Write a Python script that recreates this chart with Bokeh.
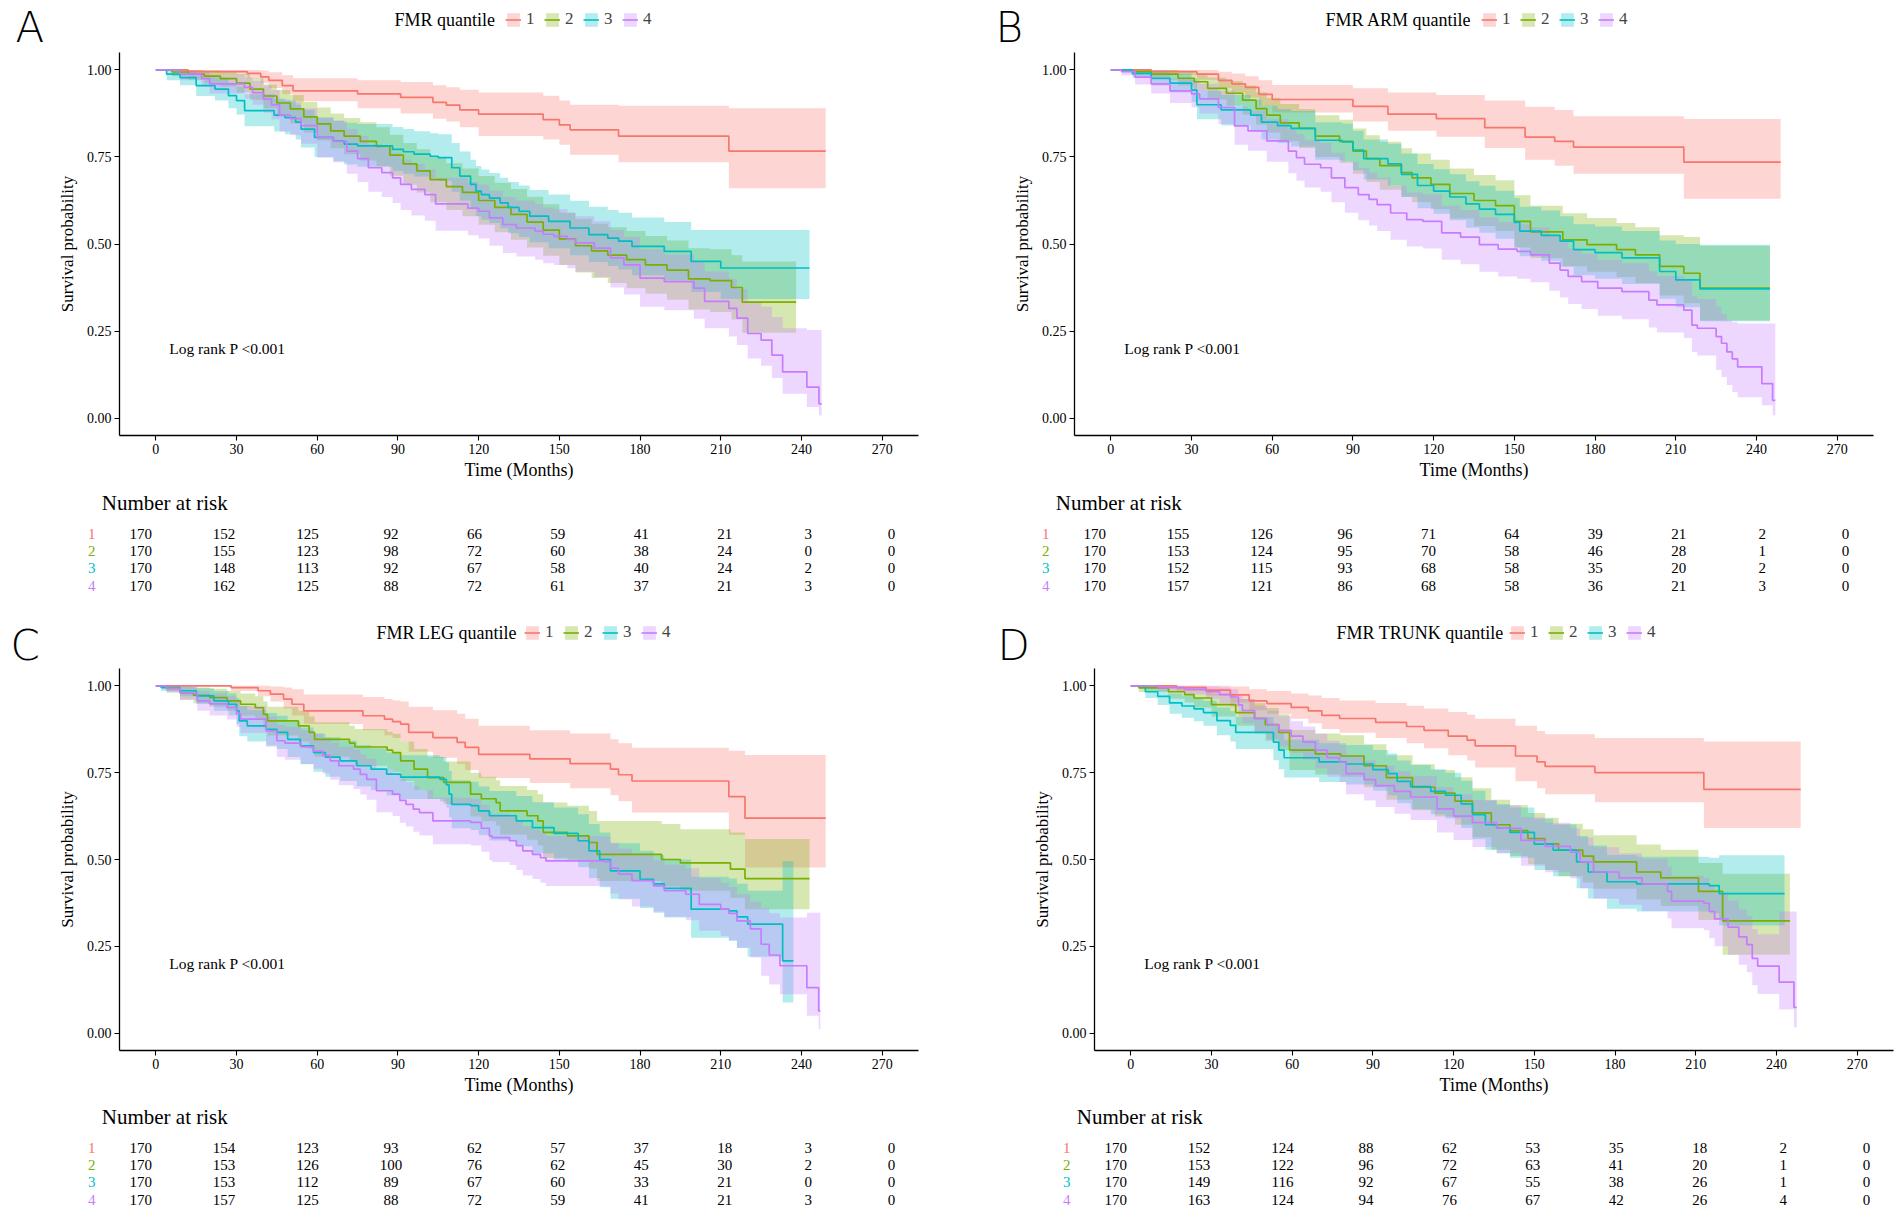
import numpy as np
from bokeh.plotting import figure
from bokeh.models import Range1d, FixedTicker, Legend, LegendItem, NumeralTickFormatter
from bokeh.layouts import row, column
from bokeh.embed import file_html
from bokeh.resources import INLINE
from bokeh.core.properties import value

# ---------------- data ----------------
COLORS = ["#F8766D", "#7CAE00", "#00BFC4", "#C77CFF"]
GROUPS = ["1", "2", "3", "4"]
X_TICKS = [0, 30, 60, 90, 120, 150, 180, 210, 240, 270]
Y_TICKS = [0.0, 0.25, 0.5, 0.75, 1.0]
LETTERS = ["A", "B", "C", "D"]
LEGEND_TITLES = ["FMR quantile", "FMR ARM quantile", "FMR LEG quantile", "FMR TRUNK quantile"]
PVAL_TEXT = "Log rank P <0.001"
X_TITLE = "Time (Months)"
Y_TITLE = "Survival probability"
RISK_TITLE = "Number at risk"
RISK_TIMES = [0, 30, 60, 90, 120, 150, 180, 210, 240, 270]

# Panel A
A1_T = [0, 12, 34, 39, 42, 47, 51, 75, 91, 103, 108, 113, 120, 144, 150, 154, 172, 213, 249]
A1_S = [1.0, 0.995, 0.99, 0.98, 0.97, 0.955, 0.94, 0.931, 0.921, 0.907, 0.899, 0.885, 0.873, 0.857, 0.842, 0.828, 0.81, 0.767, 0.767]
A1_LO = [1.0, 0.985, 0.975, 0.962, 0.948, 0.93, 0.91, 0.89, 0.875, 0.86, 0.852, 0.835, 0.81, 0.8, 0.785, 0.756, 0.735, 0.66, 0.66]
A1_HI = [1.0, 1.0, 1.0, 0.998, 0.993, 0.985, 0.976, 0.97, 0.965, 0.956, 0.95, 0.943, 0.935, 0.926, 0.912, 0.9, 0.897, 0.89, 0.89]

A2_T = [0, 6, 12, 18, 24, 30, 35, 40, 45, 50, 55, 60, 65, 70, 76, 82, 87, 92, 97, 102, 108, 114, 120, 126, 132, 138, 144, 150, 156, 162, 168, 175, 182, 190, 198, 206, 214, 218, 238]
A2_S = [1.0, 0.994, 0.988, 0.982, 0.975, 0.962, 0.945, 0.925, 0.905, 0.888, 0.865, 0.845, 0.825, 0.81, 0.795, 0.78, 0.755, 0.73, 0.71, 0.685, 0.665, 0.648, 0.625, 0.605, 0.585, 0.563, 0.54, 0.515, 0.495, 0.48, 0.468, 0.455, 0.44, 0.425, 0.4, 0.395, 0.375, 0.333, 0.333]
A2_LO = [1.0, 0.982, 0.972, 0.962, 0.952, 0.935, 0.914, 0.89, 0.866, 0.846, 0.82, 0.797, 0.775, 0.758, 0.74, 0.723, 0.696, 0.67, 0.648, 0.62, 0.598, 0.58, 0.555, 0.534, 0.512, 0.49, 0.466, 0.44, 0.418, 0.402, 0.388, 0.373, 0.357, 0.34, 0.312, 0.305, 0.283, 0.245, 0.245]
A2_HI = [1.0, 1.0, 1.0, 0.998, 0.995, 0.988, 0.976, 0.958, 0.942, 0.928, 0.908, 0.892, 0.875, 0.862, 0.85, 0.835, 0.814, 0.79, 0.772, 0.75, 0.732, 0.717, 0.695, 0.676, 0.658, 0.636, 0.614, 0.59, 0.572, 0.558, 0.548, 0.537, 0.523, 0.51, 0.488, 0.485, 0.468, 0.45, 0.45]

A3_T = [0, 4, 9, 15, 22, 27, 30, 33, 44, 48, 52, 54, 59, 66, 70, 75, 88, 92, 96, 102, 105, 110, 113, 117, 119, 121, 124, 128, 131, 135, 139, 146, 154, 161, 168, 172, 177, 189, 199, 210, 243]
A3_S = [1.0, 0.988, 0.978, 0.955, 0.945, 0.926, 0.912, 0.883, 0.87, 0.863, 0.85, 0.83, 0.806, 0.796, 0.787, 0.782, 0.772, 0.765, 0.758, 0.752, 0.748, 0.719, 0.695, 0.671, 0.652, 0.642, 0.632, 0.618, 0.605, 0.594, 0.58, 0.565, 0.546, 0.527, 0.517, 0.508, 0.493, 0.479, 0.45, 0.431, 0.431]
A3_LO = [1.0, 0.97, 0.956, 0.925, 0.912, 0.89, 0.872, 0.838, 0.823, 0.815, 0.8, 0.777, 0.75, 0.738, 0.728, 0.722, 0.71, 0.702, 0.694, 0.688, 0.682, 0.65, 0.625, 0.6, 0.58, 0.57, 0.56, 0.545, 0.531, 0.52, 0.505, 0.488, 0.468, 0.448, 0.437, 0.427, 0.41, 0.395, 0.362, 0.342, 0.342]
A3_HI = [1.0, 1.0, 0.998, 0.985, 0.978, 0.963, 0.952, 0.93, 0.918, 0.912, 0.9, 0.885, 0.864, 0.855, 0.848, 0.845, 0.836, 0.83, 0.824, 0.818, 0.815, 0.79, 0.766, 0.742, 0.724, 0.714, 0.704, 0.69, 0.678, 0.668, 0.655, 0.642, 0.624, 0.607, 0.598, 0.59, 0.576, 0.563, 0.54, 0.54, 0.54]

A4_T = [0, 9, 17, 20, 33, 36, 40, 43, 46, 50, 54, 60, 66, 71, 75, 79, 84, 88, 91, 95, 100, 104, 116, 120, 124, 129, 134, 141, 144, 148, 153, 156, 163, 169, 174, 180, 189, 200, 204, 213, 216, 220, 225, 229, 233, 242, 246.5, 247.5]
A4_S = [1.0, 0.988, 0.975, 0.96, 0.95, 0.935, 0.916, 0.9, 0.87, 0.86, 0.84, 0.806, 0.795, 0.767, 0.745, 0.719, 0.705, 0.69, 0.671, 0.657, 0.642, 0.615, 0.603, 0.594, 0.575, 0.556, 0.546, 0.537, 0.528, 0.522, 0.513, 0.503, 0.488, 0.46, 0.44, 0.402, 0.392, 0.373, 0.335, 0.315, 0.287, 0.243, 0.224, 0.181, 0.133, 0.089, 0.041, 0.041]
A4_LO = [1.0, 0.97, 0.952, 0.932, 0.918, 0.9, 0.877, 0.858, 0.823, 0.812, 0.788, 0.748, 0.735, 0.702, 0.678, 0.65, 0.635, 0.618, 0.598, 0.582, 0.567, 0.538, 0.525, 0.516, 0.495, 0.474, 0.464, 0.455, 0.445, 0.44, 0.43, 0.42, 0.405, 0.375, 0.355, 0.32, 0.31, 0.285, 0.258, 0.234, 0.21, 0.171, 0.15, 0.115, 0.07, 0.032, 0.008, 0.008]
A4_HI = [1.0, 1.0, 0.995, 0.985, 0.978, 0.968, 0.955, 0.942, 0.915, 0.907, 0.89, 0.862, 0.853, 0.83, 0.81, 0.787, 0.775, 0.762, 0.743, 0.73, 0.715, 0.69, 0.678, 0.67, 0.653, 0.635, 0.625, 0.615, 0.605, 0.6, 0.59, 0.58, 0.565, 0.54, 0.52, 0.485, 0.47, 0.45, 0.421, 0.4, 0.37, 0.335, 0.32, 0.29, 0.258, 0.253, 0.253, 0.253]

# Panel B
B1_T = [0, 15, 32, 40, 45, 50, 55, 60, 90, 103, 121, 139, 154, 165, 172, 213, 249]
B1_S = [1.0, 0.995, 0.988, 0.97, 0.96, 0.95, 0.93, 0.915, 0.895, 0.873, 0.86, 0.834, 0.807, 0.795, 0.778, 0.735, 0.735]
B1_LO = [1.0, 0.985, 0.972, 0.948, 0.935, 0.92, 0.896, 0.878, 0.852, 0.825, 0.808, 0.776, 0.742, 0.725, 0.702, 0.63, 0.63]
B1_HI = [1.0, 1.0, 1.0, 0.995, 0.99, 0.982, 0.97, 0.957, 0.947, 0.935, 0.928, 0.912, 0.894, 0.885, 0.867, 0.859, 0.859]

B2_T = [0, 8, 15, 25, 31, 36, 43, 49, 54, 58, 63, 70, 76, 85, 90, 95, 100, 108, 112, 119, 126, 135, 143, 150, 156, 168, 177, 188, 195, 204, 213, 219, 245]
B2_S = [1.0, 0.995, 0.988, 0.976, 0.966, 0.947, 0.933, 0.913, 0.889, 0.87, 0.848, 0.832, 0.81, 0.795, 0.767, 0.745, 0.725, 0.705, 0.69, 0.671, 0.645, 0.625, 0.61, 0.565, 0.535, 0.512, 0.498, 0.484, 0.469, 0.436, 0.416, 0.373, 0.373]
B2_LO = [1.0, 0.985, 0.972, 0.955, 0.94, 0.915, 0.897, 0.872, 0.843, 0.82, 0.795, 0.776, 0.75, 0.733, 0.702, 0.678, 0.656, 0.635, 0.62, 0.6, 0.573, 0.552, 0.537, 0.49, 0.46, 0.436, 0.42, 0.405, 0.388, 0.352, 0.33, 0.28, 0.28]
B2_HI = [1.0, 1.0, 1.0, 0.995, 0.99, 0.978, 0.968, 0.955, 0.936, 0.92, 0.902, 0.888, 0.87, 0.857, 0.832, 0.812, 0.794, 0.775, 0.76, 0.742, 0.717, 0.698, 0.683, 0.64, 0.61, 0.588, 0.575, 0.56, 0.548, 0.525, 0.52, 0.495, 0.495]

B3_T = [0, 8, 15, 22, 30, 32, 41, 52, 56, 62, 67, 76, 86, 90, 94, 103, 108, 114, 120, 126, 132, 137, 143, 150, 152, 160, 167, 172, 180, 190, 204, 210, 219, 245]
B3_S = [1.0, 0.99, 0.976, 0.962, 0.942, 0.9, 0.885, 0.87, 0.85, 0.84, 0.832, 0.798, 0.793, 0.77, 0.745, 0.73, 0.7, 0.668, 0.652, 0.635, 0.615, 0.6, 0.585, 0.562, 0.537, 0.525, 0.508, 0.484, 0.475, 0.46, 0.421, 0.397, 0.371, 0.371]
B3_LO = [1.0, 0.978, 0.955, 0.935, 0.908, 0.858, 0.84, 0.823, 0.8, 0.79, 0.78, 0.742, 0.737, 0.712, 0.685, 0.668, 0.636, 0.603, 0.587, 0.568, 0.547, 0.532, 0.515, 0.49, 0.465, 0.452, 0.435, 0.41, 0.4, 0.385, 0.343, 0.318, 0.278, 0.278]
B3_HI = [1.0, 1.0, 0.998, 0.99, 0.975, 0.94, 0.928, 0.915, 0.897, 0.888, 0.882, 0.85, 0.846, 0.825, 0.8, 0.788, 0.76, 0.73, 0.715, 0.7, 0.68, 0.667, 0.653, 0.632, 0.607, 0.596, 0.58, 0.557, 0.55, 0.537, 0.51, 0.5, 0.498, 0.498]

B4_T = [0, 4, 9, 15, 22, 30, 33, 40, 46, 51, 58, 66, 69, 72, 78, 82, 87, 92, 96, 99, 104, 110, 116, 123, 130, 137, 144, 151, 156, 163, 167, 170, 175, 181, 190, 200, 203, 213, 216, 218, 225, 227, 229, 231, 233, 242, 246, 247]
B4_S = [1.0, 0.995, 0.979, 0.96, 0.94, 0.931, 0.917, 0.892, 0.839, 0.825, 0.796, 0.767, 0.748, 0.729, 0.719, 0.69, 0.662, 0.642, 0.628, 0.613, 0.589, 0.57, 0.565, 0.532, 0.52, 0.498, 0.485, 0.479, 0.469, 0.445, 0.425, 0.407, 0.392, 0.373, 0.363, 0.339, 0.325, 0.31, 0.267, 0.258, 0.234, 0.215, 0.19, 0.17, 0.147, 0.099, 0.051, 0.051]
B4_LO = [1.0, 0.985, 0.958, 0.932, 0.905, 0.893, 0.875, 0.845, 0.785, 0.768, 0.736, 0.703, 0.682, 0.662, 0.65, 0.62, 0.59, 0.568, 0.553, 0.537, 0.512, 0.493, 0.487, 0.455, 0.442, 0.42, 0.407, 0.4, 0.39, 0.366, 0.346, 0.328, 0.313, 0.294, 0.284, 0.26, 0.246, 0.23, 0.19, 0.18, 0.138, 0.118, 0.095, 0.075, 0.06, 0.037, 0.008, 0.008]
B4_HI = [1.0, 1.0, 0.998, 0.988, 0.975, 0.97, 0.96, 0.94, 0.895, 0.883, 0.858, 0.832, 0.815, 0.798, 0.79, 0.762, 0.736, 0.718, 0.705, 0.69, 0.667, 0.648, 0.643, 0.61, 0.598, 0.577, 0.563, 0.557, 0.548, 0.524, 0.505, 0.487, 0.472, 0.454, 0.445, 0.422, 0.408, 0.395, 0.35, 0.342, 0.32, 0.3, 0.28, 0.275, 0.272, 0.272, 0.272, 0.272]

# Panel C
C1_T = [0, 28, 38, 42.6, 47.5, 50.6, 55, 77, 85, 88, 91, 94, 103, 112, 115, 120, 139, 154, 169, 172, 177, 213, 219, 249]
C1_S = [1.0, 0.995, 0.986, 0.976, 0.962, 0.947, 0.928, 0.914, 0.904, 0.897, 0.89, 0.866, 0.851, 0.837, 0.823, 0.803, 0.79, 0.776, 0.76, 0.744, 0.726, 0.681, 0.619, 0.619]
C1_LO = [1.0, 0.985, 0.97, 0.955, 0.935, 0.915, 0.89, 0.872, 0.858, 0.85, 0.84, 0.81, 0.793, 0.775, 0.758, 0.735, 0.72, 0.705, 0.685, 0.668, 0.635, 0.571, 0.477, 0.477]
C1_HI = [1.0, 1.0, 1.0, 0.998, 0.995, 0.99, 0.975, 0.968, 0.962, 0.958, 0.955, 0.94, 0.93, 0.92, 0.905, 0.885, 0.872, 0.863, 0.846, 0.835, 0.822, 0.813, 0.801, 0.801]

C2_T = [0, 4, 9, 14, 20, 26.5, 31.5, 37, 40, 41.5, 53, 57, 59, 72, 74, 86, 88, 91, 96, 101, 107, 117, 121, 126.5, 128, 138, 142, 144, 153, 161, 164, 188, 195, 213.6, 219, 243]
C2_S = [1.0, 0.993, 0.98, 0.973, 0.966, 0.957, 0.947, 0.937, 0.918, 0.899, 0.885, 0.866, 0.846, 0.835, 0.824, 0.815, 0.808, 0.784, 0.76, 0.736, 0.722, 0.688, 0.675, 0.664, 0.64, 0.626, 0.611, 0.578, 0.568, 0.549, 0.515, 0.5, 0.49, 0.472, 0.445, 0.445]
C2_LO = [1.0, 0.98, 0.96, 0.95, 0.94, 0.928, 0.915, 0.903, 0.88, 0.857, 0.84, 0.818, 0.796, 0.783, 0.77, 0.76, 0.752, 0.726, 0.7, 0.674, 0.66, 0.624, 0.61, 0.598, 0.572, 0.557, 0.54, 0.505, 0.494, 0.474, 0.438, 0.422, 0.41, 0.39, 0.357, 0.357]
C2_HI = [1.0, 1.0, 0.998, 0.995, 0.992, 0.985, 0.978, 0.97, 0.955, 0.94, 0.928, 0.912, 0.895, 0.885, 0.876, 0.868, 0.862, 0.84, 0.818, 0.796, 0.782, 0.75, 0.738, 0.728, 0.712, 0.7, 0.688, 0.664, 0.655, 0.64, 0.611, 0.602, 0.587, 0.578, 0.559, 0.559]

C3_T = [0, 2, 9, 15, 21.6, 27, 30, 31, 34, 41, 45, 49, 53.7, 58.6, 63, 68.5, 74.7, 80, 85.8, 91, 105.6, 108, 109, 110, 117, 120, 124, 134, 140, 148, 157, 161, 165, 169, 180, 185, 189, 199, 213, 216, 220, 233, 237]
C3_S = [1.0, 0.995, 0.986, 0.971, 0.957, 0.947, 0.928, 0.899, 0.885, 0.875, 0.866, 0.846, 0.827, 0.808, 0.795, 0.784, 0.77, 0.76, 0.746, 0.737, 0.731, 0.715, 0.688, 0.659, 0.655, 0.64, 0.626, 0.611, 0.592, 0.575, 0.554, 0.525, 0.5, 0.467, 0.443, 0.43, 0.417, 0.357, 0.352, 0.335, 0.314, 0.208, 0.208]
C3_LO = [1.0, 0.985, 0.97, 0.948, 0.928, 0.915, 0.89, 0.855, 0.84, 0.828, 0.818, 0.795, 0.774, 0.753, 0.738, 0.726, 0.71, 0.7, 0.684, 0.674, 0.667, 0.65, 0.622, 0.59, 0.585, 0.57, 0.555, 0.538, 0.518, 0.5, 0.478, 0.447, 0.42, 0.387, 0.36, 0.347, 0.333, 0.275, 0.265, 0.245, 0.22, 0.088, 0.088]
C3_HI = [1.0, 1.0, 0.998, 0.993, 0.985, 0.978, 0.965, 0.942, 0.93, 0.922, 0.914, 0.897, 0.88, 0.863, 0.852, 0.842, 0.83, 0.82, 0.808, 0.8, 0.795, 0.78, 0.755, 0.728, 0.724, 0.71, 0.697, 0.683, 0.665, 0.65, 0.63, 0.602, 0.578, 0.547, 0.525, 0.512, 0.5, 0.45, 0.445, 0.43, 0.41, 0.496, 0.496]

C4_T = [0, 4, 9, 15.4, 20, 26.5, 30, 31.5, 41, 45, 48, 54, 58.6, 62, 64.8, 68, 73.5, 76, 78.4, 82, 88, 90.7, 93, 95.7, 98, 103, 117, 121, 124, 125, 131.5, 134, 136.4, 140, 143, 145, 166.5, 169, 172, 177, 185, 189, 197, 202, 210, 213, 216, 221, 225, 228, 232, 242, 246.4, 247]
C4_S = [1.0, 0.993, 0.98, 0.957, 0.948, 0.938, 0.92, 0.904, 0.87, 0.842, 0.835, 0.824, 0.812, 0.8, 0.784, 0.77, 0.76, 0.745, 0.731, 0.698, 0.688, 0.67, 0.659, 0.645, 0.635, 0.611, 0.607, 0.59, 0.568, 0.563, 0.554, 0.54, 0.525, 0.515, 0.505, 0.496, 0.494, 0.475, 0.458, 0.439, 0.424, 0.41, 0.4, 0.371, 0.357, 0.345, 0.323, 0.3, 0.256, 0.225, 0.194, 0.131, 0.064, 0.064]
C4_LO = [1.0, 0.982, 0.96, 0.928, 0.915, 0.903, 0.882, 0.864, 0.825, 0.795, 0.787, 0.775, 0.761, 0.748, 0.73, 0.714, 0.703, 0.687, 0.672, 0.636, 0.625, 0.606, 0.595, 0.58, 0.569, 0.544, 0.54, 0.522, 0.498, 0.493, 0.484, 0.47, 0.454, 0.444, 0.433, 0.424, 0.422, 0.402, 0.385, 0.365, 0.35, 0.335, 0.325, 0.295, 0.28, 0.268, 0.246, 0.218, 0.165, 0.14, 0.112, 0.05, 0.012, 0.012]
C4_HI = [1.0, 1.0, 0.997, 0.985, 0.978, 0.97, 0.955, 0.942, 0.912, 0.888, 0.882, 0.872, 0.862, 0.851, 0.837, 0.825, 0.816, 0.802, 0.79, 0.76, 0.75, 0.733, 0.723, 0.71, 0.7, 0.678, 0.674, 0.658, 0.637, 0.632, 0.623, 0.61, 0.596, 0.586, 0.577, 0.568, 0.566, 0.548, 0.531, 0.513, 0.498, 0.485, 0.475, 0.447, 0.433, 0.421, 0.4, 0.378, 0.36, 0.345, 0.333, 0.347, 0.347, 0.347]

# Panel D
D1_T = [0, 17, 28, 37, 44, 50.6, 59.6, 66, 71, 77.6, 91, 102.5, 109, 118, 125, 128, 143, 151, 154, 172.5, 213, 249]
D1_S = [1.0, 0.995, 0.988, 0.974, 0.957, 0.949, 0.938, 0.928, 0.915, 0.906, 0.895, 0.883, 0.872, 0.855, 0.844, 0.827, 0.798, 0.781, 0.768, 0.75, 0.702, 0.702]
D1_LO = [1.0, 0.985, 0.972, 0.952, 0.93, 0.92, 0.905, 0.892, 0.876, 0.865, 0.85, 0.835, 0.82, 0.8, 0.785, 0.765, 0.725, 0.705, 0.688, 0.665, 0.591, 0.591]
D1_HI = [1.0, 1.0, 1.0, 0.998, 0.99, 0.985, 0.978, 0.972, 0.965, 0.958, 0.951, 0.943, 0.935, 0.925, 0.917, 0.905, 0.885, 0.87, 0.861, 0.85, 0.84, 0.84]

D2_T = [0, 3, 14, 20, 23.5, 30, 39, 46, 50, 55, 59, 68.6, 78, 86.7, 95, 104.7, 113, 120.5, 127, 134, 141, 147.6, 154, 159, 168, 172, 188, 197, 211, 220, 245]
D2_S = [1.0, 0.994, 0.983, 0.975, 0.965, 0.946, 0.923, 0.906, 0.888, 0.866, 0.815, 0.804, 0.798, 0.77, 0.736, 0.708, 0.691, 0.668, 0.634, 0.6, 0.583, 0.56, 0.545, 0.527, 0.51, 0.493, 0.464, 0.447, 0.408, 0.323, 0.323]
D2_LO = [1.0, 0.982, 0.963, 0.952, 0.938, 0.912, 0.885, 0.863, 0.842, 0.815, 0.758, 0.745, 0.738, 0.708, 0.672, 0.642, 0.624, 0.6, 0.564, 0.528, 0.51, 0.486, 0.47, 0.452, 0.434, 0.416, 0.385, 0.366, 0.326, 0.226, 0.226]
D2_HI = [1.0, 1.0, 0.998, 0.995, 0.99, 0.978, 0.962, 0.95, 0.936, 0.918, 0.873, 0.863, 0.858, 0.832, 0.8, 0.774, 0.758, 0.737, 0.705, 0.672, 0.656, 0.634, 0.62, 0.603, 0.587, 0.57, 0.543, 0.528, 0.49, 0.459, 0.459]

D3_T = [0, 5.4, 10, 14.4, 19, 23.5, 27, 32, 37, 39, 53, 55, 57, 70, 80, 90, 95.7, 99, 104, 111.5, 117, 122.8, 127, 131.8, 136, 140.9, 150, 157, 165.7, 170, 177, 188, 215, 218.7, 243]
D3_S = [1.0, 0.983, 0.97, 0.951, 0.942, 0.934, 0.923, 0.9, 0.886, 0.866, 0.838, 0.815, 0.793, 0.781, 0.775, 0.759, 0.747, 0.725, 0.71, 0.696, 0.685, 0.66, 0.629, 0.6, 0.59, 0.578, 0.544, 0.527, 0.493, 0.464, 0.436, 0.43, 0.425, 0.402, 0.402]
D3_LO = [1.0, 0.965, 0.945, 0.92, 0.908, 0.898, 0.885, 0.858, 0.84, 0.818, 0.786, 0.76, 0.736, 0.723, 0.716, 0.698, 0.685, 0.662, 0.645, 0.63, 0.618, 0.591, 0.558, 0.528, 0.518, 0.505, 0.47, 0.452, 0.417, 0.388, 0.358, 0.35, 0.345, 0.31, 0.31]
D3_HI = [1.0, 1.0, 0.99, 0.978, 0.972, 0.965, 0.957, 0.938, 0.927, 0.91, 0.885, 0.865, 0.845, 0.835, 0.83, 0.815, 0.805, 0.785, 0.772, 0.76, 0.75, 0.727, 0.698, 0.67, 0.66, 0.65, 0.617, 0.601, 0.568, 0.54, 0.513, 0.508, 0.505, 0.512, 0.512]

D4_T = [0, 10, 20, 28, 33, 37, 40, 41.5, 46, 50.6, 55, 59.6, 64, 68.6, 73, 77.6, 80, 86.7, 91, 98, 104, 113.8, 120, 127, 136, 145, 154, 163.4, 167, 172, 181.5, 190, 199.5, 201, 213, 215, 217, 222, 226, 229, 231, 233, 241, 246.5, 247.5]
D4_S = [1.0, 0.995, 0.99, 0.983, 0.975, 0.968, 0.945, 0.929, 0.906, 0.889, 0.872, 0.855, 0.838, 0.815, 0.793, 0.78, 0.747, 0.73, 0.713, 0.696, 0.68, 0.646, 0.625, 0.606, 0.59, 0.555, 0.538, 0.521, 0.493, 0.464, 0.447, 0.43, 0.408, 0.38, 0.374, 0.351, 0.329, 0.305, 0.277, 0.255, 0.215, 0.193, 0.147, 0.074, 0.074]
D4_LO = [1.0, 0.985, 0.975, 0.963, 0.95, 0.94, 0.912, 0.892, 0.866, 0.846, 0.826, 0.807, 0.788, 0.762, 0.738, 0.723, 0.688, 0.67, 0.651, 0.632, 0.614, 0.578, 0.556, 0.536, 0.518, 0.482, 0.463, 0.446, 0.417, 0.387, 0.37, 0.352, 0.33, 0.302, 0.296, 0.273, 0.25, 0.226, 0.197, 0.175, 0.138, 0.113, 0.068, 0.017, 0.017]
D4_HI = [1.0, 1.0, 1.0, 0.998, 0.995, 0.99, 0.975, 0.962, 0.943, 0.928, 0.913, 0.898, 0.883, 0.862, 0.842, 0.83, 0.8, 0.785, 0.77, 0.754, 0.74, 0.708, 0.688, 0.671, 0.656, 0.622, 0.606, 0.59, 0.563, 0.535, 0.518, 0.502, 0.48, 0.453, 0.447, 0.425, 0.405, 0.382, 0.356, 0.337, 0.3, 0.285, 0.35, 0.35, 0.35]

# Number at risk tables (rows: groups 1-4; columns: RISK_TIMES)
RISK_A = [[170, 152, 125, 92, 66, 59, 41, 21, 3, 0],
          [170, 155, 123, 98, 72, 60, 38, 24, 0, 0],
          [170, 148, 113, 92, 67, 58, 40, 24, 2, 0],
          [170, 162, 125, 88, 72, 61, 37, 21, 3, 0]]
RISK_B = [[170, 155, 126, 96, 71, 64, 39, 21, 2, 0],
          [170, 153, 124, 95, 70, 58, 46, 28, 1, 0],
          [170, 152, 115, 93, 68, 58, 35, 20, 2, 0],
          [170, 157, 121, 86, 68, 58, 36, 21, 3, 0]]
RISK_C = [[170, 154, 123, 93, 62, 57, 37, 18, 3, 0],
          [170, 153, 126, 100, 76, 62, 45, 30, 2, 0],
          [170, 153, 112, 89, 67, 60, 33, 21, 0, 0],
          [170, 157, 125, 88, 72, 59, 41, 21, 3, 0]]
RISK_D = [[170, 152, 124, 88, 62, 53, 35, 18, 2, 0],
          [170, 153, 122, 96, 72, 63, 41, 20, 1, 0],
          [170, 149, 116, 92, 67, 55, 38, 26, 1, 0],
          [170, 163, 124, 94, 76, 67, 42, 26, 4, 0]]

PANELS = [
    [(A1_T, A1_S, A1_LO, A1_HI), (A2_T, A2_S, A2_LO, A2_HI), (A3_T, A3_S, A3_LO, A3_HI), (A4_T, A4_S, A4_LO, A4_HI)],
    [(B1_T, B1_S, B1_LO, B1_HI), (B2_T, B2_S, B2_LO, B2_HI), (B3_T, B3_S, B3_LO, B3_HI), (B4_T, B4_S, B4_LO, B4_HI)],
    [(C1_T, C1_S, C1_LO, C1_HI), (C2_T, C2_S, C2_LO, C2_HI), (C3_T, C3_S, C3_LO, C3_HI), (C4_T, C4_S, C4_LO, C4_HI)],
    [(D1_T, D1_S, D1_LO, D1_HI), (D2_T, D2_S, D2_LO, D2_HI), (D3_T, D3_S, D3_LO, D3_HI), (D4_T, D4_S, D4_LO, D4_HI)],
]
RISKS = [RISK_A, RISK_B, RISK_C, RISK_D]

# ---------------- helpers ----------------
SERIF = "Liberation Serif"
LETTER_FONT = "'DejaVu Sans Light', 'Noto Sans', sans-serif"


def step_xy(t, v):
    t = np.asarray(t, dtype=float)
    v = np.asarray(v, dtype=float)
    return np.repeat(t, 2)[1:], np.repeat(v, 2)[:-1]


def style_axis(ax, label):
    ax.axis_label = label
    ax.axis_label_text_font = SERIF
    ax.axis_label_text_font_style = "normal"
    ax.axis_label_text_color = "black"
    ax.axis_line_color = "black"
    ax.axis_line_width = 1.3
    ax.major_tick_line_color = "black"
    ax.major_tick_line_width = 1.1
    ax.major_tick_out = 5
    ax.major_tick_in = 0
    ax.minor_tick_out = 0
    ax.minor_tick_in = 0
    ax.major_label_text_font = SERIF
    ax.major_label_text_font_size = "14px"
    ax.major_label_text_color = "black"


def header_figure(width, height, letter, letter_x, letter_y, title, title_x, leg_x, leg_y):
    h = figure(width=width, height=height, x_range=Range1d(0, width), y_range=Range1d(0, height),
               output_backend="svg", toolbar_location=None, x_axis_location=None, y_axis_location=None,
               min_border_left=0, min_border_right=0, min_border_top=0, min_border_bottom=0)
    h.grid.visible = False
    h.outline_line_color = None
    h.text(x=[letter_x], y=[letter_y], text=[letter], text_font=value(LETTER_FONT), text_font_size="42px",
           text_align="left", text_baseline="middle", text_color="black")
    h.text(x=[title_x], y=[leg_y + 10], text=[title], text_font=value(SERIF), text_font_size="18px",
           text_align="left", text_baseline="middle", text_color="black")
    # legend-key renderers: same styles as the curves, their (off-range) points are never visible
    bands = [h.varea(x=[-60, -50], y1=[0, 0], y2=[1, 1], fill_color=c, fill_alpha=0.3) for c in COLORS]
    lines = [h.step(x=[-60, -50], y=[0.5, 0.5], mode="after", line_color=c, line_width=1.6) for c in COLORS]
    items = [LegendItem(label=g, renderers=[b, l]) for g, b, l in zip(GROUPS, bands, lines)]
    leg = Legend(items=items, orientation="horizontal", location=(leg_x, leg_y))
    leg.label_text_font = SERIF
    leg.label_text_font_size = "17px"
    leg.label_standoff = 5
    leg.label_width = 10
    leg.label_height = 20
    leg.glyph_width = 16
    leg.glyph_height = 17
    leg.spacing = 8
    leg.padding = 0
    leg.margin = 0
    leg.border_line_alpha = 0
    leg.background_fill_alpha = 0
    h.add_layout(leg)
    return h


def km_figure(curves, width, height, bl, br, bb):
    p = figure(width=width, height=height, x_range=Range1d(-13.5, 283.5), y_range=Range1d(-0.05, 1.05),
               output_backend="svg", toolbar_location=None,
               min_border_left=bl, min_border_right=br, min_border_top=0, min_border_bottom=bb)
    p.grid.visible = False
    p.outline_line_color = None
    p.xaxis.ticker = FixedTicker(ticks=X_TICKS)
    p.yaxis.ticker = FixedTicker(ticks=Y_TICKS)
    p.yaxis.formatter = NumeralTickFormatter(format="0.00")
    style_axis(p.xaxis[0], X_TITLE)
    style_axis(p.yaxis[0], Y_TITLE)
    p.xaxis.axis_label_text_font_size = "18px"
    p.xaxis.axis_label_standoff = 3
    p.xaxis.major_label_standoff = 3
    p.yaxis.axis_label_text_font_size = "17px"
    p.yaxis.axis_label_standoff = 7
    p.yaxis.major_label_standoff = 3

    for (t, s, lo, hi), c in zip(curves, COLORS):
        n = min(len(t), len(s), len(lo), len(hi))
        bx, blo = step_xy(t[:n], lo[:n])
        _, bhi = step_xy(t[:n], hi[:n])
        p.varea(x=bx, y1=blo, y2=bhi, fill_color=c, fill_alpha=0.3)
    for (t, s, lo, hi), c in zip(curves, COLORS):
        n = min(len(t), len(s))
        p.step(x=list(t[:n]), y=list(s[:n]), mode="after", line_color=c, line_width=1.7)

    p.text(x=[5], y=[0.2], text=[PVAL_TEXT], text_font=value(SERIF), text_font_size="15.5px",
           text_align="left", text_baseline="middle", text_color="black")
    return p


def risk_figure(counts, width, height, bl, br, bb):
    p = figure(width=width, height=height, x_range=Range1d(-22, 275), y_range=Range1d(0.5, 6.6),
               output_backend="svg", toolbar_location=None, x_axis_location=None, y_axis_location=None,
               min_border_left=bl, min_border_right=br, min_border_top=0, min_border_bottom=bb)
    p.grid.visible = False
    p.outline_line_color = None
    p.text(x=[-14.0], y=[5.79], text=[RISK_TITLE], text_font=value(SERIF), text_font_size="21px",
           text_align="left", text_baseline="middle", text_color="black")
    xs, ys, txt = [], [], []
    for gi, vals in enumerate(counts):
        for tt, v in zip(RISK_TIMES, vals):
            xs.append(tt)
            ys.append(4 - gi)
            txt.append(str(v))
    p.text(x=xs, y=ys, text=txt, text_font=value(SERIF), text_font_size="15px",
           text_align="center", text_baseline="middle", text_color="black")
    p.text(x=[-17.6] * 4, y=[4, 3, 2, 1], text=GROUPS, text_color=COLORS, text_font=value(SERIF),
           text_font_size="15px", text_align="center", text_baseline="middle")
    return p


hA = header_figure(958, 52, LETTERS[0], 15, 25.5, LEGEND_TITLES[0], 394, 505, 23)
hB = header_figure(936, 52, LETTERS[1], 37, 25.5, LEGEND_TITLES[1], 367, 523, 23)
hC = header_figure(958, 60, LETTERS[2], 10, 23.5, LEGEND_TITLES[2], 376, 524, 26)
hD = header_figure(936, 60, LETTERS[3], 39, 23.5, LEGEND_TITLES[3], 378, 551, 26)

kmA = km_figure(PANELS[0], 958, 436, 119, 40, 53)
kmB = km_figure(PANELS[1], 936, 436, 116, 21, 53)
kmC = km_figure(PANELS[2], 958, 434, 119, 40, 52)
kmD = km_figure(PANELS[3], 936, 434, 136, 1, 52)

rA = risk_figure(RISKS[0], 958, 120, 79, 53, 14)
rB = risk_figure(RISKS[1], 936, 120, 75, 35, 14)
rC = risk_figure(RISKS[2], 958, 106, 79, 53, 0)
rD = risk_figure(RISKS[3], 936, 106, 96, 14, 0)

layout = column(row(hA, hB, spacing=0), row(kmA, kmB, spacing=0), row(rA, rB, spacing=0),
                row(hC, hD, spacing=0), row(kmC, kmD, spacing=0), row(rC, rD, spacing=0),
                spacing=0)

open("out.html", "w").write(file_html(layout, INLINE))
